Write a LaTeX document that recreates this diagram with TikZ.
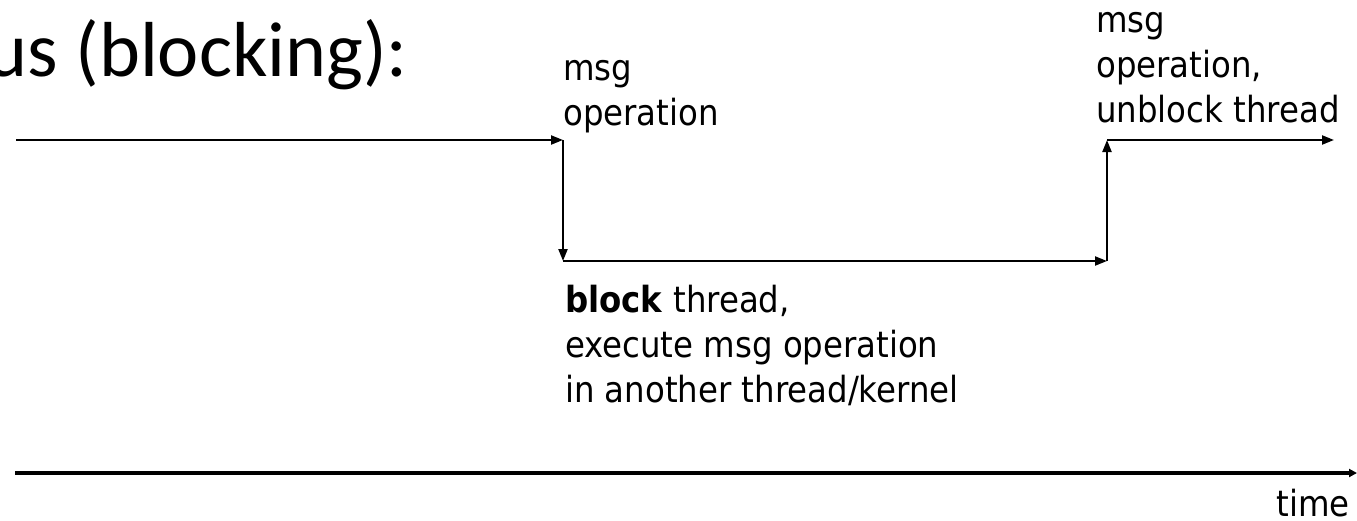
\documentclass[tikz,border=0pt]{standalone}
\usepackage{fontspec}
\setmainfont{DejaVu Sans Condensed}
\newfontfamily\titlefont{Carlito}
\usetikzlibrary{arrows.meta}

\tikzset{
  flow/.style={line width=2.2pt, -{Triangle[length=12pt,width=9pt]}},
  axis/.style={line width=4pt, -{Triangle[length=8pt,width=8pt]}},
  lbl/.style={inner sep=0pt, anchor=base west, align=left,
              font=\fontsize{36}{45}\selectfont},
}

\begin{document}
\begin{tikzpicture}[x=1pt, y=-1pt]
  \useasboundingbox (0,0) rectangle (1357,520);

  % heading (runs off the left edge)
  \node[inner sep=0pt, anchor=base east, font=\titlefont\fontsize{78}{86}\selectfont]
    (title) at (408,76) {us (blocking):};

  % thread time line: running, blocked, running again
  \coordinate (run0)  at (16,140);
  \coordinate (call)  at (563,140);
  \coordinate (blk)   at (563,261);
  \coordinate (wake)  at (1107,261);
  \coordinate (ret)   at (1107,140);
  \coordinate (run1)  at (1334,140);

  \draw[flow] (run0) -- (call);
  \draw[flow] (call) -- (blk);
  \draw[flow] (blk) -- (wake);
  \draw[flow] (wake) -- (ret);
  \draw[flow] (ret) -- (run1);

  % labels (anchored at the baseline of their last line)
  \node[lbl] (op1) at (563,125) {msg\\operation};
  \node[lbl] (op2) at (1096,122) {msg\\operation,\\unblock thread};
  \node[lbl] (blktxt) at (565,402)
    {\textbf{block} thread,\\execute msg operation\\in another thread/kernel};

  % time axis
  \coordinate (t0) at (15,473);
  \coordinate (t1) at (1357,473);
  \draw[axis] (t0) -- (t1);
  \node[inner sep=0pt, anchor=base east, font=\fontsize{36}{45}\selectfont]
    (time) at (1350,516) {time};
\end{tikzpicture}
\end{document}
